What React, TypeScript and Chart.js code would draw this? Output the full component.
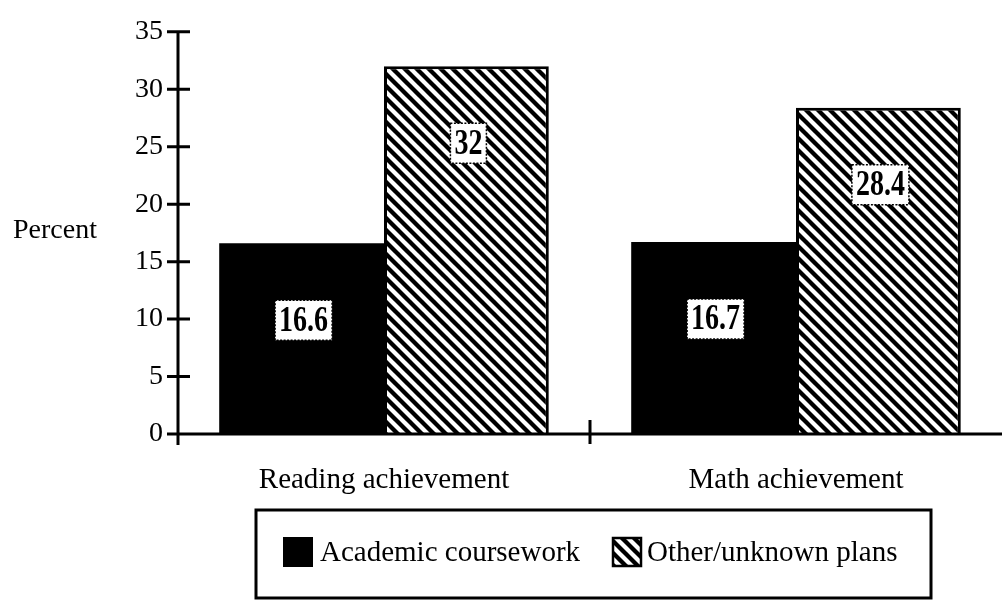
import React, { useEffect, useRef } from "react";
import { Chart, registerables } from "chart.js";

Chart.register(...registerables);

const categories = ["Reading achievement", "Math achievement"];
const seriesNames = ["Academic coursework", "Other/unknown plans"];
const academicValues = [16.6, 16.7];
const otherValues = [32, 28.4];
const yMin = 0;
const yMax = 35;
const yStep = 5;

const FONT = "'Liberation Serif', 'Times New Roman', serif";

function makeHatch(): CanvasPattern | string {
  const s = 12;
  const c = document.createElement("canvas");
  c.width = s;
  c.height = s;
  const g = c.getContext("2d");
  if (!g) return "#888";
  g.fillStyle = "#fff";
  g.fillRect(0, 0, s, s);
  g.strokeStyle = "#000";
  g.lineWidth = 4.3;
  for (const k of [-s, 0, s]) {
    g.beginPath();
    g.moveTo(k - 2, -2);
    g.lineTo(k + s + 2, s + 2);
    g.stroke();
  }
  const p = g.createPattern(c, "repeat");
  return p || "#888";
}

export default function App() {
  const ref = useRef<HTMLCanvasElement | null>(null);

  useEffect(() => {
    if (!ref.current) return;
    const hatch = makeHatch();

    const axesPlugin = {
      id: "customAxes",
      afterDatasetsDraw(chart: any) {
        const { ctx, scales, chartArea } = chart;
        const x = scales.x;
        const y = scales.y;
        const y0 = y.getPixelForValue(0);
        const ax = chartArea.left;
        ctx.save();
        ctx.strokeStyle = "#000";
        ctx.lineWidth = 3;
        ctx.lineCap = "butt";
        ctx.beginPath();
        ctx.moveTo(ax, y.getPixelForValue(yMax) - 1.5);
        ctx.lineTo(ax, y0 + 11);
        y.ticks.forEach((t: any) => {
          const py = y.getPixelForValue(t.value);
          ctx.moveTo(ax - 11, py);
          ctx.lineTo(ax + 12, py);
        });
        ctx.moveTo(ax, y0);
        ctx.lineTo(chartArea.right, y0);
        const mid = (x.getPixelForValue(0) + x.getPixelForValue(1)) / 2;
        ctx.moveTo(mid, y0 - 14);
        ctx.lineTo(mid, y0 + 10);
        ctx.stroke();

        // "Percent" label
        ctx.fillStyle = "#000";
        ctx.font = `28px ${FONT}`;
        ctx.textAlign = "left";
        ctx.textBaseline = "middle";
        ctx.fillText("Percent", 13, 231);
        ctx.restore();
      },
    };

    const labelPlugin = {
      id: "valueLabels",
      afterDatasetsDraw(chart: any) {
        const { ctx } = chart;
        ctx.save();
        chart.data.datasets.forEach((ds: any, di: number) => {
          const meta = chart.getDatasetMeta(di);
          meta.data.forEach((el: any, i: number) => {
            const text = String(ds.data[i]);
            const cx = el.x + 2;
            const cy = el.y + 77;
            ctx.font = `bold 28px ${FONT}`;
            const w = ctx.measureText(text).width + 8;
            const h = 40;
            ctx.fillStyle = "#fff";
            ctx.fillRect(cx - w / 2, cy - h / 2, w, h);
            ctx.strokeStyle = "#000";
            ctx.lineWidth = 1.5;
            ctx.setLineDash([2, 1.5]);
            ctx.strokeRect(cx - w / 2, cy - h / 2, w, h);
            ctx.setLineDash([]);
            ctx.fillStyle = "#000";
            ctx.textAlign = "center";
            ctx.textBaseline = "middle";
            ctx.save();
            ctx.translate(cx, cy + 1);
            ctx.scale(1, 1.3);
            ctx.fillText(text, 0, 0);
            ctx.restore();
          });
        });
        ctx.restore();
      },
    };

    const legendPlugin = {
      id: "boxLegend",
      afterDraw(chart: any) {
        const { ctx } = chart;
        const ds = chart.data.datasets;
        ctx.save();
        ctx.strokeStyle = "#000";
        ctx.lineWidth = 3;
        ctx.strokeRect(256, 510, 675, 88);
        ctx.font = `29px ${FONT}`;
        ctx.textAlign = "left";
        ctx.textBaseline = "middle";
        ctx.fillStyle = ds[0].backgroundColor;
        ctx.fillRect(283, 537, 30, 30);
        ctx.fillStyle = "#000";
        ctx.fillText(ds[0].label, 320, 553);
        ctx.fillStyle = ds[1].backgroundColor;
        ctx.fillRect(613, 538, 28, 28);
        ctx.lineWidth = 2.5;
        ctx.strokeRect(613, 538, 28, 28);
        ctx.fillStyle = "#000";
        ctx.fillText(ds[1].label, 647, 553);
        ctx.restore();
      },
    };

    const chart = new Chart(ref.current, {
      type: "bar",
      data: {
        labels: categories,
        datasets: [
          {
            label: seriesNames[0],
            data: academicValues,
            backgroundColor: "#000",
            borderColor: "#000",
            borderWidth: 0,
            categoryPercentage: 0.8,
            barPercentage: 1.0,
          },
          {
            label: seriesNames[1],
            data: otherValues,
            backgroundColor: hatch as any,
            borderColor: "#000",
            borderWidth: 3,
            categoryPercentage: 0.8,
            barPercentage: 1.0,
          },
        ],
      },
      options: {
        animation: false,
        responsive: false,
        maintainAspectRatio: false,
        layout: { padding: { top: 30, right: 1, left: 0, bottom: 0 } },
        plugins: {
          legend: { display: false },
          tooltip: { enabled: false },
        },
        scales: {
          x: {
            grid: { display: false, drawTicks: false },
            border: { display: false },
            ticks: {
              color: "#000",
              font: { family: FONT, size: 29 },
              padding: 29,
              maxRotation: 0,
              autoSkip: false,
            },
            afterFit: (scale: any) => {
              scale.height = 170;
            },
          },
          y: {
            min: yMin,
            max: yMax,
            grid: { display: false, drawTicks: false },
            border: { display: false },
            ticks: {
              stepSize: yStep,
              color: "#000",
              font: { family: FONT, size: 28 },
              padding: 15,
            },
            afterFit: (scale: any) => {
              scale.width = 178;
            },
          },
        },
      },
      plugins: [axesPlugin, labelPlugin, legendPlugin],
    });
    return () => chart.destroy();
  }, []);

  return (
    <div style={{ position: "absolute", left: 0, top: 0, width: 1003, height: 604, background: "#fff" }}>
      <canvas ref={ref} width={1003} height={604} style={{ display: "block" }} />
    </div>
  );
}
